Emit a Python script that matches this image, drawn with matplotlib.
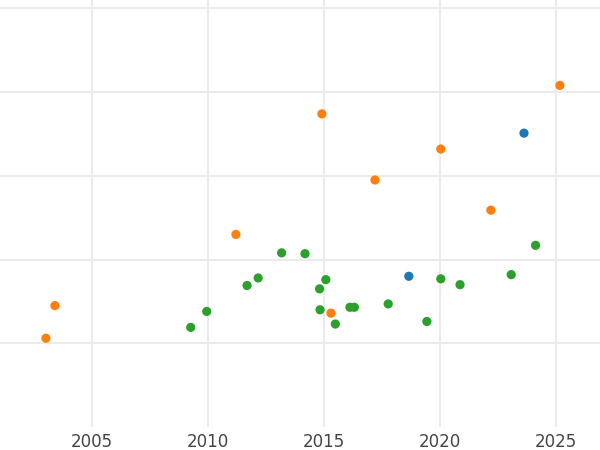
import matplotlib.pyplot as plt

# datos
azul_x = [2018.67, 2023.64]
azul_y = [1.80, 3.51]

naranja_x = [2003.01, 2003.40, 2011.21, 2014.92, 2015.31, 2017.21, 2020.05, 2022.21, 2025.19]
naranja_y = [1.06, 1.45, 2.30, 3.74, 1.36, 2.95, 3.32, 2.59, 4.08]

verde_x = [2009.26, 2009.95, 2011.69, 2012.17, 2013.18, 2014.19, 2014.82, 2015.09, 2014.84,
           2015.50, 2016.13, 2016.32, 2017.78, 2019.45, 2020.05, 2020.88, 2023.09, 2024.14]
verde_y = [1.19, 1.38, 1.69, 1.78, 2.08, 2.07, 1.65, 1.76, 1.40,
           1.23, 1.43, 1.43, 1.47, 1.26, 1.77, 1.70, 1.82, 2.17]

anios = [2005, 2010, 2015, 2020, 2025]
niveles = [1, 2, 3, 4, 5]

fig = plt.figure(figsize=(6, 4.5), dpi=100)
ax = fig.add_axes([0, 1 - 427/450, 1, 427/450])

ax.scatter(azul_x, azul_y, s=44, color="#1f77b4", edgecolors="none", zorder=3)
ax.scatter(naranja_x, naranja_y, s=44, color="#ff7f0e", edgecolors="none", zorder=3)
ax.scatter(verde_x, verde_y, s=44, color="#2ca02c", edgecolors="none", zorder=3)

ax.set_xlim(2001.03, 2026.92)
ax.set_ylim(0, 5.1)
ax.set_xticks(anios)
ax.set_yticks(niveles)
ax.set_yticklabels([])
ax.grid(True, color="#ebebeb", lw=1.5)
ax.set_axisbelow(True)
ax.tick_params(length=0, labelsize=12, labelcolor="#444444", pad=4)
for s in ax.spines.values():
    s.set_visible(False)

fig.savefig("out.png", dpi=100)
